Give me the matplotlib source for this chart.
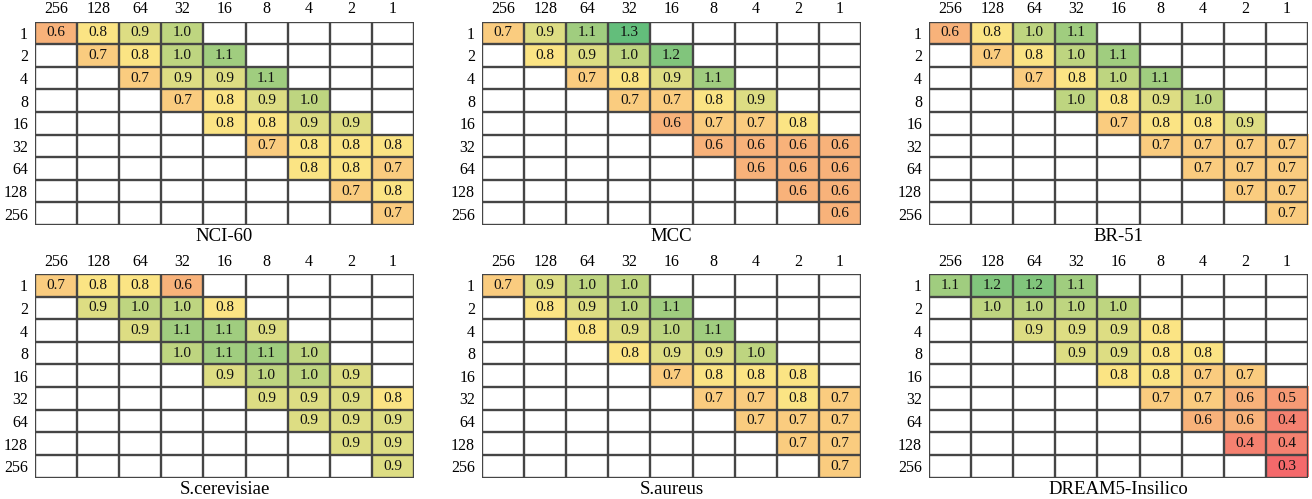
import numpy as np
import matplotlib
matplotlib.use("Agg")
import matplotlib.pyplot as plt
from matplotlib.colors import LinearSegmentedColormap, Normalize

plt.rcParams['font.family'] = ['Liberation Serif', 'DejaVu Serif']

col_labels = ["256", "128", "64", "32", "16", "8", "4", "2", "1"]
row_labels = ["1", "2", "4", "8", "16", "32", "64", "128", "256"]

# each row i starts at column i
nci60 = [[0.6, 0.8, 0.9, 1.0], [0.7, 0.8, 1.0, 1.1], [0.7, 0.9, 0.9, 1.1],
         [0.7, 0.8, 0.9, 1.0], [0.8, 0.8, 0.9, 0.9], [0.7, 0.8, 0.8, 0.8],
         [0.8, 0.8, 0.7], [0.7, 0.8], [0.7]]
mcc = [[0.7, 0.9, 1.1, 1.3], [0.8, 0.9, 1.0, 1.2], [0.7, 0.8, 0.9, 1.1],
       [0.7, 0.7, 0.8, 0.9], [0.6, 0.7, 0.7, 0.8], [0.6, 0.6, 0.6, 0.6],
       [0.6, 0.6, 0.6], [0.6, 0.6], [0.6]]
br51 = [[0.6, 0.8, 1.0, 1.1], [0.7, 0.8, 1.0, 1.1], [0.7, 0.8, 1.0, 1.1],
        [1.0, 0.8, 0.9, 1.0], [0.7, 0.8, 0.8, 0.9], [0.7, 0.7, 0.7, 0.7],
        [0.7, 0.7, 0.7], [0.7, 0.7], [0.7]]
scerevisiae = [[0.7, 0.8, 0.8, 0.6], [0.9, 1.0, 1.0, 0.8], [0.9, 1.1, 1.1, 0.9],
               [1.0, 1.1, 1.1, 1.0], [0.9, 1.0, 1.0, 0.9], [0.9, 0.9, 0.9, 0.8],
               [0.9, 0.9, 0.9], [0.9, 0.9], [0.9]]
saureus = [[0.7, 0.9, 1.0, 1.0], [0.8, 0.9, 1.0, 1.1], [0.8, 0.9, 1.0, 1.1],
           [0.8, 0.9, 0.9, 1.0], [0.7, 0.8, 0.8, 0.8], [0.7, 0.7, 0.8, 0.7],
           [0.7, 0.7, 0.7], [0.7, 0.7], [0.7]]
dream5 = [[1.1, 1.2, 1.2, 1.1], [1.0, 1.0, 1.0, 1.0], [0.9, 0.9, 0.9, 0.8],
          [0.9, 0.9, 0.8, 0.8], [0.8, 0.8, 0.7, 0.7], [0.7, 0.7, 0.6, 0.5],
          [0.6, 0.6, 0.4], [0.4, 0.4], [0.3]]

titles = ["NCI-60", "MCC", "BR-51", "S.cerevisiae", "S.aureus", "DREAM5-Insilico"]
panels = [nci60, mcc, br51, scerevisiae, saureus, dream5]

cmap = LinearSegmentedColormap.from_list("ryg", ["#F4696B", "#FCE585", "#63BE7B"])
norm = Normalize(vmin=0.3, vmax=1.3)

W, H = 1312, 499
fig = plt.figure(figsize=(W / 100, H / 100), dpi=100)

lefts = [35, 482, 929]
tops = [21.5, 274]
pw, ph = 379, 203.5
title_y = [237, 490]

for k, (data, title) in enumerate(zip(panels, titles)):
    r, c = divmod(k, 3)
    x0, y0 = lefts[c], tops[r]
    ax = fig.add_axes([x0 / W, 1 - (y0 + ph) / H, pw / W, ph / H])
    n = len(col_labels)
    rgba = np.ones((n, n, 4))
    for i, row in enumerate(data):
        for j, v in enumerate(row):
            rgba[i, i + j] = cmap(norm(v))
            ax.text(i + j + 0.5, i + 0.5, f"{v:.1f}", ha="center", va="center",
                    fontsize=11, color="#111111")
    ax.imshow(rgba, extent=(0, n, n, 0), aspect="auto", interpolation="nearest")
    for t in range(n + 1):
        ax.axhline(t, color="#454545", lw=1.7)
        ax.axvline(t, color="#454545", lw=1.7)
    ax.set_xlim(0, n)
    ax.set_ylim(n, 0)
    ax.xaxis.tick_top()
    ax.set_xticks(np.arange(n) + 0.5)
    ax.set_xticklabels(col_labels, fontsize=11.5)
    ax.set_yticks(np.arange(n) + 0.5)
    ax.set_yticklabels(row_labels, fontsize=11.5)
    ax.tick_params(axis="y", length=0, pad=5)
    ax.tick_params(axis="x", length=0, pad=3)
    for s in ax.spines.values():
        s.set_visible(False)
    fig.text((x0 + pw / 2) / W, 1 - title_y[r] / H, title, ha="center", va="center",
             fontsize=13.5)

fig.savefig("out.png", dpi=100)
